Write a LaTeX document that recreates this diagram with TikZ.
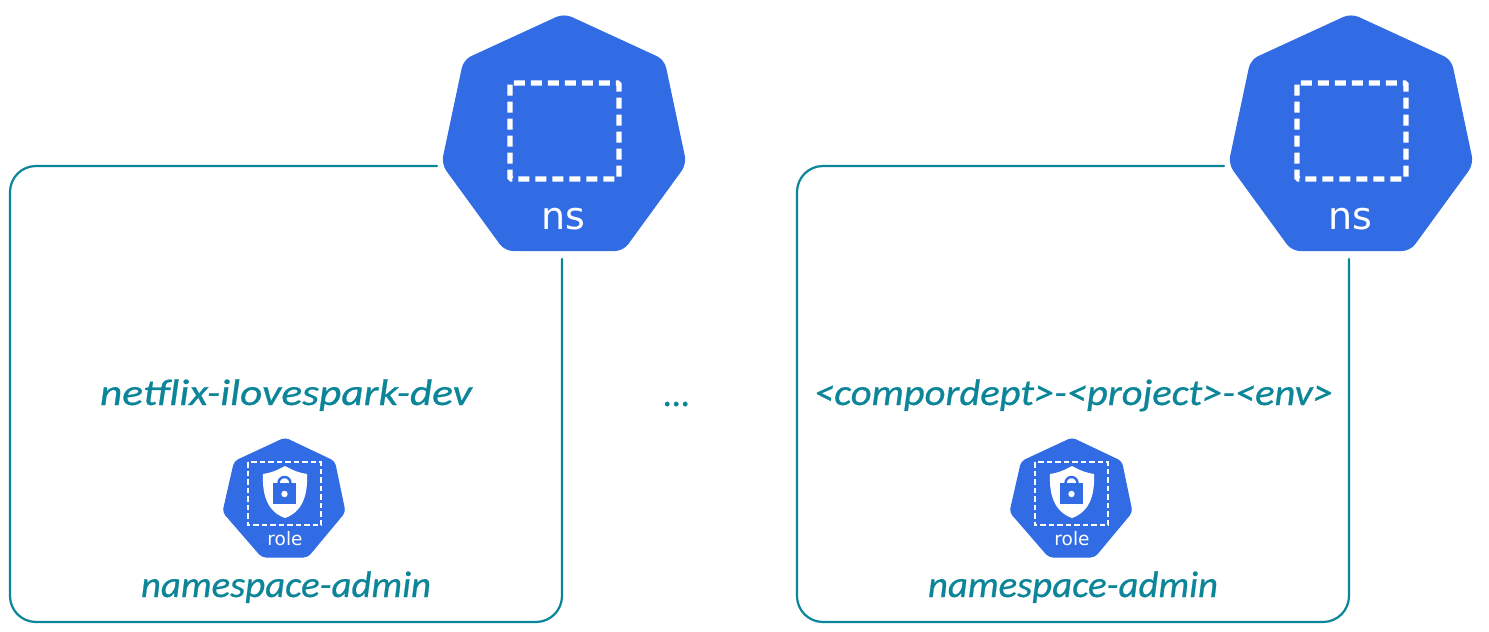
\documentclass[tikz,border=0pt]{standalone}
\usepackage{fontspec}
\usepackage{graphicx}
\setmainfont{DejaVu Sans}
\newfontfamily\handfont{Carlito}[ItalicFont=* Italic,ItalicFeatures={FakeBold=0.6}]
\definecolor{kblue}{HTML}{326CE5}
\definecolor{kteal}{HTML}{0C8599}
\tikzset{
  hept/.style={fill=kblue,draw=kblue,line width=1pt,rounded corners=#1},
  dashbig/.style={draw=white,line width=5.4pt,dash pattern=on 11pt off 6pt,rounded corners=1.5pt},
  dashsmall/.style={draw=white,line width=2.8pt,dash pattern=on 5.5pt off 3pt},
  frameline/.style={draw=kteal,line width=2.2pt,line cap=round},
  hand/.style={text=kteal,inner sep=0pt,anchor=base,font=\handfont\itshape},
}
\newcommand{\handtext}[3]{\resizebox{#1pt}{\height}{\fontsize{#2}{#2}\selectfont #3}}
\begin{document}
\begin{tikzpicture}[x=1pt,y=-1pt]
\useasboundingbox (0,0) rectangle (1489,632);
\fill[white] (0,0) rectangle (1489,632);
\foreach \dx/\tag in {0/A,787/B}{
\begin{scope}[shift={(\dx,0)}]
  % large namespace icon
  \draw[hept=8pt] (564,14) -- (664,60) -- (686,164) -- (623,250.5) -- (505,250.5) -- (442,164) -- (464,60) -- cycle;
  \draw[dashbig] (510,83) rectangle (619,179);
  \node[text=white,font=\fontsize{38}{38}\selectfont,inner sep=0pt] (ns\tag) at (563,219) {ns};
  % small role icon
  \draw[hept=4pt] (285,438) -- (334.5,461.5) -- (345,512) -- (307.5,557) -- (262,557) -- (223,512) -- (234.5,461.5) -- cycle;
  \draw[dashsmall] (248,462) rectangle (321,525);
  \fill[white] (285,466) .. controls (276,471) and (270,473) .. (263,474) .. controls (262,496) and (268,512) .. (285,518) .. controls (302,512) and (308,496) .. (307,474) .. controls (300,473) and (294,471) .. (285,466) -- cycle;
  \draw[kblue,line width=2.4pt] (278.5,485) -- (278.5,483) arc[start angle=180,end angle=360,radius=6] -- (290.5,485);
  \fill[kblue] (273,483) rectangle (296,504);
  \fill[white] (284.5,494) circle[radius=3.2];
  \node[text=white,font=\fontsize{18.5}{18.5}\selectfont,inner sep=0pt] (role\tag) at (285,539) {role};
  \node[hand] (admin\tag) at (286,597) {\handtext{290}{37}{namespace-admin}};
  % frame
  \coordinate (start\tag) at (437,166);
  \coordinate (end\tag) at (562,259);
  \draw[frameline,rounded corners=26pt] (start\tag) -- (10,166) -- (10,622) -- (562,622) -- (end\tag);
\end{scope}
}
\node[hand] (nameA) at (286,405) {\handtext{372}{37}{netflix-ilovespark-dev}};
\node[hand] (nameB) at (1073.5,405) {\handtext{519}{37}{<compordept>-<project>-<env>}};
\node[hand] (dots) at (677,406) {\handtext{27}{37}{...}};
\end{tikzpicture}
\end{document}
